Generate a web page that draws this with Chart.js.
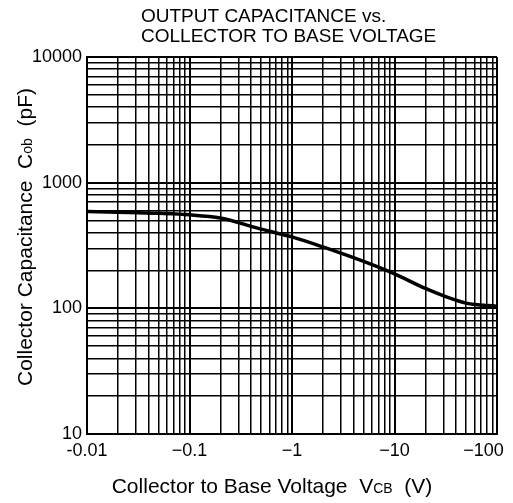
<!DOCTYPE html>
<html>
<head>
<meta charset="utf-8">
<script src="https://cdn.jsdelivr.net/npm/chart.js@4.4.1/dist/chart.umd.min.js"></script>
<style>
  html, body { margin: 0; padding: 0; background: #fff; }
  #wrap { width: 513px; height: 503px; position: relative; }
</style>
</head>
<body>
<div id="wrap"><canvas id="chart"></canvas></div>
<script>
// Collector to base voltage |V_CB| (V), plotted as magnitude on a log axis
var voltage = [0.01, 0.02, 0.05, 0.1, 0.2, 0.5, 1, 2, 5, 10, 20, 50, 100];
// Output capacitance C_ob (pF)
var capacitance = [590, 582, 570, 555, 523, 427, 370, 308, 236, 188, 144, 110, 104];

// Axis decades and their labels
var xDecades = [0.01, 0.1, 1, 10, 100];
var xTickLabels = ['-0.01', '\u22120.1', '\u22121', '\u221210', '\u2212100'];
var yDecades = [10, 100, 1000, 10000];
var yTickLabels = ['10', '100', '1000', '10000'];

var FONT = "'Liberation Sans', Arial, Helvetica, sans-serif";

// every 1..9 step inside each decade, for the log-paper grid
function gridValues(decades) {
    var vals = [];
    for (var i = 0; i < decades.length - 1; i++) {
        for (var k = 1; k <= 9; k++) vals.push(decades[i] * k);
    }
    vals.push(decades[decades.length - 1]);
    return vals;
}

function decadeIndex(v, decades) {
    for (var i = 0; i < decades.length; i++) {
        if (Math.abs(v / decades[i] - 1) < 1e-6) return i;
    }
    return -1;
}

// draws a run of text pieces with different sizes, centered at 0
function drawPieces(ctx, pieces) {
    var total = 0;
    pieces.forEach(function(p) {
        ctx.font = p.size + 'px ' + FONT;
        p.w = ctx.measureText(p.t).width;
        total += p.w;
    });
    var x = -total / 2;
    pieces.forEach(function(p) {
        ctx.font = p.size + 'px ' + FONT;
        ctx.fillText(p.t, x, 0);
        x += p.w;
    });
}

var textPlugin = {
    id: 'textPlugin',
    afterDraw: function(chart) {
        var ctx = chart.ctx;
        ctx.save();
        ctx.fillStyle = '#000';
        ctx.textBaseline = 'alphabetic';
        ctx.textAlign = 'left';

        // title
        ctx.font = '19px ' + FONT;
        ctx.fillText('OUTPUT CAPACITANCE vs.', 141, 22);
        ctx.fillText('COLLECTOR TO BASE VOLTAGE', 141, 42);

        // x axis title
        ctx.save();
        ctx.translate(272, 493);
        drawPieces(ctx, [
            { t: 'Collector to Base Voltage  V', size: 21 },
            { t: 'CB', size: 14 },
            { t: '  (V)', size: 21 }
        ]);
        ctx.restore();

        // y axis title
        ctx.save();
        ctx.translate(32, 237);
        ctx.rotate(-Math.PI / 2);
        drawPieces(ctx, [
            { t: 'Collector Capacitance  C', size: 21 },
            { t: 'ob', size: 14 },
            { t: '  (pF)', size: 21 }
        ]);
        ctx.restore();

        ctx.restore();
    }
};

var ctx = document.getElementById('chart').getContext('2d');
new Chart(ctx, {
    type: 'line',
    data: {
        datasets: [{
            data: voltage.map(function(v, i) { return { x: v, y: capacitance[i] }; }),
            borderColor: '#000',
            borderWidth: 3.5,
            pointRadius: 0,
            cubicInterpolationMode: 'monotone',
            fill: false
        }]
    },
    options: {
        responsive: true,
        maintainAspectRatio: false,
        animation: false,
        layout: {
            padding: { top: 57, right: 16, bottom: 0, left: 0 }
        },
        plugins: {
            legend: { display: false },
            tooltip: { enabled: false }
        },
        scales: {
            x: {
                type: 'logarithmic',
                min: 0.01,
                max: 100,
                afterBuildTicks: function(scale) {
                    scale.ticks = gridValues(xDecades).map(function(v) { return { value: v }; });
                },
                afterFit: function(scale) {
                    scale.height = 69;
                    scale.paddingLeft = 0;
                    scale.paddingRight = 0;
                },
                border: { display: true, color: '#000', width: 2 },
                grid: {
                    color: '#000',
                    drawTicks: false,
                    lineWidth: function(c) {
                        return decadeIndex(c.tick.value, xDecades) >= 0 ? 2 : 1.5;
                    }
                },
                ticks: {
                    autoSkip: false,
                    maxRotation: 0,
                    minRotation: 0,
                    padding: 6,
                    color: '#000',
                    font: { family: FONT, size: 18 },
                    callback: function(value) {
                        var i = decadeIndex(value, xDecades);
                        if (i < 0) return '';
                        // last label sits a little left of its line, as in the print
                        return i === xDecades.length - 1 ? xTickLabels[i] + '\u2002\u2002\u2002' : xTickLabels[i];
                    }
                }
            },
            y: {
                type: 'logarithmic',
                min: 10,
                max: 10000,
                afterBuildTicks: function(scale) {
                    scale.ticks = gridValues(yDecades).map(function(v) { return { value: v }; });
                },
                afterFit: function(scale) {
                    scale.width = 87;
                    scale.paddingTop = 0;
                    scale.paddingBottom = 0;
                },
                border: { display: true, color: '#000', width: 2 },
                grid: {
                    color: '#000',
                    drawTicks: false,
                    lineWidth: function(c) {
                        return decadeIndex(c.tick.value, yDecades) >= 0 ? 2 : 1.5;
                    }
                },
                ticks: {
                    autoSkip: false,
                    padding: 5,
                    color: '#000',
                    font: { family: FONT, size: 18 },
                    callback: function(value) {
                        var i = decadeIndex(value, yDecades);
                        return i >= 0 ? yTickLabels[i] : '';
                    }
                }
            }
        }
    },
    plugins: [textPlugin]
});
</script>
</body>
</html>
